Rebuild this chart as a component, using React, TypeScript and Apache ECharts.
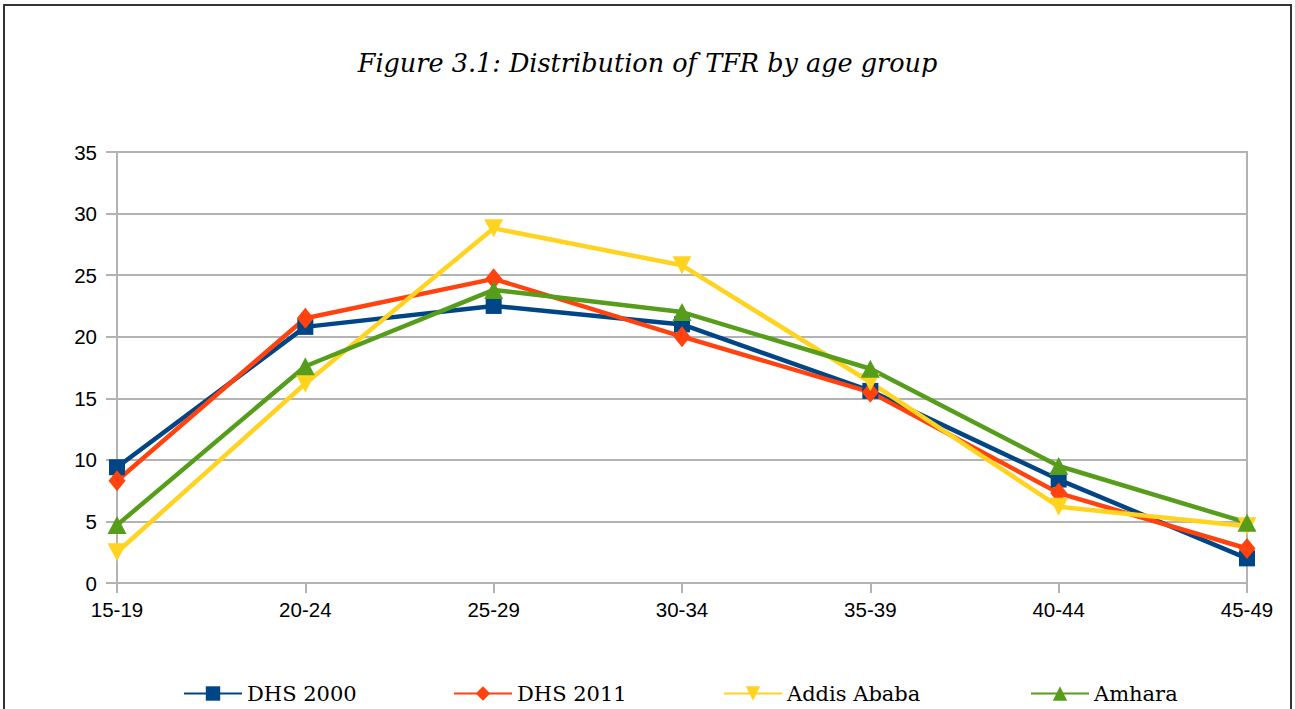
import React, { useEffect, useRef } from "react";
import * as echarts from "echarts";

const categories = ["15-19", "20-24", "25-29", "30-34", "35-39", "40-44", "45-49"];
const dhs2000 = [9.4, 20.8, 22.5, 21.0, 15.6, 8.4, 2.0];
const dhs2011 = [8.3, 21.5, 24.7, 20.0, 15.5, 7.3, 2.8];
const addisAbaba = [2.5, 16.2, 28.8, 25.8, 16.3, 6.2, 4.6];
const amhara = [4.7, 17.6, 23.8, 22.0, 17.4, 9.5, 4.9];
const seriesNames = ["DHS 2000", "DHS 2011", "Addis Ababa", "Amhara"];
const yTicks = [0, 5, 10, 15, 20, 25, 30, 35];

export default function App() {
  const ref = useRef<HTMLDivElement>(null);
  useEffect(() => {
    if (!ref.current) return;
    const chart = echarts.init(ref.current, null, { renderer: "svg" });
    const sansFont = "Liberation Sans";
    const serifFont = "DejaVu Serif";
    const mk = (name: string, data: number[], color: string, symbol: string, size: any) => ({
      name,
      type: "line",
      data,
      symbol,
      symbolSize: size,
      showSymbol: true,
      lineStyle: { color, width: 4.5 },
      itemStyle: { color },
      emphasis: { disabled: true },
    });
    const legendLefts = [183, 453, 723, 1030];
    const legends = seriesNames.map((n, i) => ({
      data: [n],
      left: legendLefts[i],
      top: 683,
      padding: 0,
      itemWidth: 58,
      itemHeight: 18,
      textStyle: { fontFamily: serifFont, fontSize: 21, color: "#000" },
    }));
    chart.setOption({
      animation: false,
      backgroundColor: "#ffffff",
      title: {
        text: "Figure 3.1: Distribution of TFR by age group",
        left: "center",
        top: 45,
        textStyle: {
          fontFamily: serifFont,
          fontStyle: "italic",
          fontWeight: "normal",
          fontSize: 25.5,
          color: "#000",
        },
      },
      legend: legends,
      grid: {
        left: 117,
        right: 48,
        top: 152,
        bottom: 126,
        containLabel: false,
        show: true,
        borderColor: "#b3b3b3",
        borderWidth: 2,
      },
      xAxis: {
        type: "category",
        data: categories,
        boundaryGap: false,
        axisLine: { lineStyle: { color: "#b3b3b3", width: 2 } },
        axisTick: { show: true, alignWithLabel: true, length: 10, lineStyle: { color: "#b3b3b3", width: 2 } },
        axisLabel: { fontFamily: sansFont, fontSize: 20.5, color: "#000", margin: 16 },
        splitLine: { show: false },
      },
      yAxis: {
        type: "value",
        min: yTicks[0],
        max: yTicks[yTicks.length - 1],
        interval: 5,
        axisLine: { show: true, lineStyle: { color: "#b3b3b3", width: 2 } },
        axisTick: { show: true, length: 11, lineStyle: { color: "#b3b3b3", width: 2 } },
        axisLabel: { fontFamily: sansFont, fontSize: 20.5, color: "#000", margin: 20 },
        splitLine: { show: true, lineStyle: { color: "#b3b3b3", width: 2 } },
      },
      graphic: [
        {
          type: "rect",
          shape: { x: 4, y: 5, width: 1287, height: 760 },
          style: { fill: "none", stroke: "#333", lineWidth: 2 },
          silent: true,
        },
      ],
      series: [
        mk(seriesNames[0], dhs2000, "#004586", "rect", 16),
        mk(seriesNames[1], dhs2011, "#ff420e", "diamond", [17, 21]),
        mk(seriesNames[2], addisAbaba, "#ffd320", "path://M0,0 L10,0 L5,10 Z", [19, 18]),
        mk(seriesNames[3], amhara, "#579d1c", "triangle", [19, 18]),
      ],
    });
    return () => chart.dispose();
  }, []);
  return (
    <div
      ref={ref}
      style={{ position: "absolute", left: 0, top: 0, width: 1295, height: 709 }}
    />
  );
}
